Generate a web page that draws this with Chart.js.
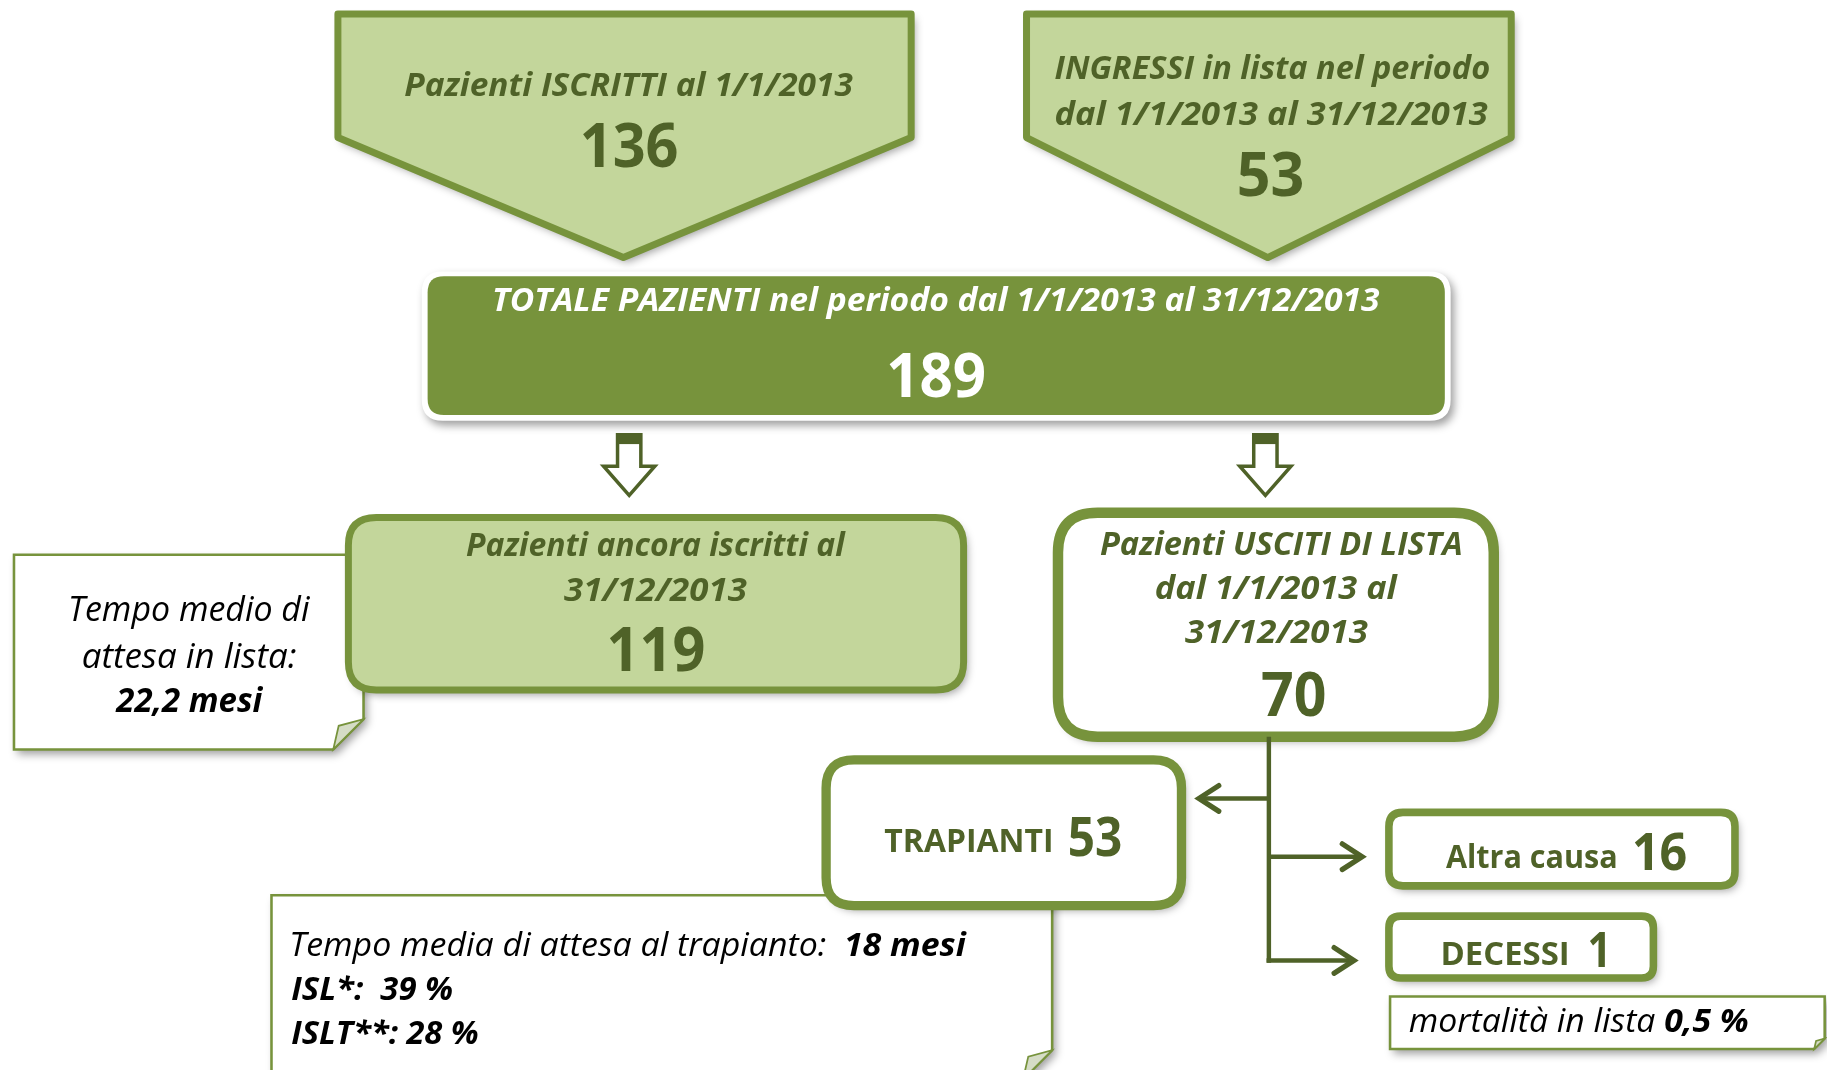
<!DOCTYPE html>
<html><head><meta charset="utf-8">
<script src="https://cdn.jsdelivr.net/npm/chart.js@4.4.1/dist/chart.umd.min.js"></script>
<style>html,body{margin:0;padding:0;background:#fff;overflow:hidden}canvas{display:block}</style>
</head><body>
<canvas id="c" width="1827" height="1070"></canvas>
<script>
// ---------------- DATA ----------------
const countNames   = ['Iscritti al 1/1/2013','Ingressi','Totale pazienti','Ancora iscritti','Usciti di lista','Trapianti','Altra causa','Decessi'];
const patientCounts = [136, 53, 189, 119, 70, 53, 16, 1];
const waitListMonths = [22.2];
const transplantWaitMonths = [18];
const islPercent  = [39];
const isltPercent = [28];
const mortalityPercent = [0.5];

// ---------------- STYLE / LAYOUT (reference units: 1568 x 918) ----------------
const DARK = '#4F6228', BORDER = '#77933C', LIGHT = '#C3D69B', FOLD = '#d5dcc6';
const W = 1568, H = 918;
const fmt = v => String(v).replace('.', ',');

// anchors of the count labels (ink extents): [x0, x1, baseline, size, color]
const countAnchors = [
  [500, 581, 143, 52, DARK],
  [1063, 1118, 168, 52, DARK],
  [763, 845, 341, 52, '#ffffff'],
  [523, 604, 576, 52, DARK],
  [1083, 1137, 614, 52, DARK],
  [918, 962, 734, 46, DARK],
  [1403, 1447, 746, 44, DARK],
  [1364, 1378, 830, 42, DARK]
];

const texts = [
  {segs:[['Pazienti ISCRITTI al 1/1/2013','bi']], x0:347, x1:732, b:82, s:28, c:DARK},
  {segs:[['INGRESSI in lista nel periodo','bi']], x0:905, x1:1278, b:68, s:28, c:DARK},
  {segs:[['dal 1/1/2013 al 31/12/2013','bi']], x0:906, x1:1277, b:107, s:28, c:DARK},
  {segs:[['TOTALE PAZIENTI nel periodo dal 1/1/2013 al 31/12/2013','bi']], x0:424, x1:1184, b:267, s:28, c:'#ffffff'},
  {segs:[['Pazienti ancora iscritti al','bi']], x0:400, x1:726, b:477, s:28, c:DARK},
  {segs:[['31/12/2013','bi']], x0:484, x1:641, b:516, s:28, c:DARK},
  {segs:[['Pazienti USCITI DI LISTA','bi']], x0:944, x1:1254, b:476, s:28, c:DARK},
  {segs:[['dal 1/1/2013 al','bi']], x0:992, x1:1200, b:514, s:28, c:DARK},
  {segs:[['31/12/2013','bi']], x0:1017, x1:1174, b:552, s:28, c:DARK},
  {segs:[['Tempo medio di','i']], x0:61, x1:266, b:533, s:29, c:'#000'},
  {segs:[['attesa in lista:','i']], x0:71, x1:254, b:573, s:29, c:'#000'},
  {segs:[[fmt(waitListMonths[0]) + ' mesi','bi']], x0:99, x1:226, b:611, s:29, c:'#000'},
  {segs:[['TRAPIANTI','b']], x0:759, x1:902, b:731, s:27, c:DARK},
  {segs:[['Altra causa','b']], x0:1241, x1:1387, b:745, s:28, c:DARK},
  {segs:[['DECESSI','b']], x0:1238, x1:1345, b:828, s:27, c:DARK},
  {segs:[['mortalità in lista ','i'],[fmt(mortalityPercent[0]) + ' %','bi']], x0:1209, x1:1500, b:885, s:28, c:'#000'},
  {segs:[['Tempo media di attesa al trapianto:  ','i'],[fmt(transplantWaitMonths[0]) + ' mesi','bi']], x0:250, x1:830, b:820, s:28, c:'#000'},
  {segs:[['ISL*:  ' + fmt(islPercent[0]) + ' %','bi']], x0:250, x1:388, b:858, s:28, c:'#000'},
  {segs:[['ISLT**: ' + fmt(isltPercent[0]) + ' %','bi']], x0:250, x1:410, b:896, s:28, c:'#000'}
];

const FONT = '"Open Sans","Noto Sans","DejaVu Sans",sans-serif';

// ---------------- DRAWING PLUGIN ----------------
const diagram = {
  id: 'diagram',
  beforeDatasetsDraw(chart) {
    const ctx = chart.ctx, xs = chart.scales.x, ys = chart.scales.y;
    const X = v => xs.getPixelForValue(v), Y = v => ys.getPixelForValue(v);
    const S = X(1) - X(0);
    const shadowOn = () => { ctx.shadowColor = 'rgba(0,0,0,0.38)'; ctx.shadowBlur = 7*S; ctx.shadowOffsetX = 3*S; ctx.shadowOffsetY = 4*S; };
    const shadowOff = () => { ctx.shadowColor = 'rgba(0,0,0,0)'; ctx.shadowBlur = 0; ctx.shadowOffsetX = 0; ctx.shadowOffsetY = 0; };
    const rr = (x0, y0, x1, y1, r) => {
      ctx.beginPath();
      ctx.moveTo(X(x0 + r), Y(y0));
      ctx.lineTo(X(x1 - r), Y(y0)); ctx.quadraticCurveTo(X(x1), Y(y0), X(x1), Y(y0 + r));
      ctx.lineTo(X(x1), Y(y1 - r)); ctx.quadraticCurveTo(X(x1), Y(y1), X(x1 - r), Y(y1));
      ctx.lineTo(X(x0 + r), Y(y1)); ctx.quadraticCurveTo(X(x0), Y(y1), X(x0), Y(y1 - r));
      ctx.lineTo(X(x0), Y(y0 + r)); ctx.quadraticCurveTo(X(x0), Y(y0), X(x0 + r), Y(y0));
      ctx.closePath();
    };
    const box = (x0, y0, x1, y1, r, fill, stroke, lw) => {
      ctx.save(); shadowOn(); rr(x0, y0, x1, y1, r); ctx.fillStyle = fill; ctx.fill(); shadowOff();
      ctx.lineWidth = lw * S; ctx.strokeStyle = stroke; ctx.lineJoin = 'round'; ctx.stroke(); ctx.restore();
    };
    const pent = (x0, x1, y0, ys2, tx, ty) => {
      ctx.save(); shadowOn();
      ctx.beginPath(); ctx.moveTo(X(x0), Y(y0)); ctx.lineTo(X(x1), Y(y0)); ctx.lineTo(X(x1), Y(ys2));
      ctx.lineTo(X(tx), Y(ty)); ctx.lineTo(X(x0), Y(ys2)); ctx.closePath();
      ctx.fillStyle = LIGHT; ctx.fill(); shadowOff();
      ctx.lineWidth = 6*S; ctx.strokeStyle = BORDER; ctx.lineJoin = 'round'; ctx.stroke(); ctx.restore();
    };
    const note = (x0, y0, x1, y1, f) => {
      ctx.save(); shadowOn();
      ctx.beginPath(); ctx.moveTo(X(x0), Y(y0)); ctx.lineTo(X(x1), Y(y0)); ctx.lineTo(X(x1), Y(y1 - f));
      ctx.lineTo(X(x1 - f), Y(y1)); ctx.lineTo(X(x0), Y(y1)); ctx.closePath();
      ctx.fillStyle = '#fff'; ctx.fill(); shadowOff();
      ctx.lineWidth = 2.2*S; ctx.strokeStyle = BORDER; ctx.stroke();
      ctx.beginPath(); ctx.moveTo(X(x1), Y(y1 - f)); ctx.lineTo(X(x1 - f), Y(y1)); ctx.lineTo(X(x1 - f*0.82), Y(y1 - f*0.78)); ctx.closePath();
      ctx.fillStyle = FOLD; ctx.fill(); ctx.lineWidth = 1.5*S; ctx.stroke();
      ctx.restore();
    };
    const hollowArrow = (cx) => {
      ctx.save();
      ctx.beginPath();
      ctx.moveTo(X(cx - 10), Y(373)); ctx.lineTo(X(cx + 10), Y(373)); ctx.lineTo(X(cx + 10), Y(400));
      ctx.lineTo(X(cx + 22), Y(400)); ctx.lineTo(X(cx), Y(425)); ctx.lineTo(X(cx - 22), Y(400));
      ctx.lineTo(X(cx - 10), Y(400)); ctx.closePath();
      ctx.fillStyle = '#fff'; ctx.fill();
      ctx.lineWidth = 3*S; ctx.strokeStyle = DARK; ctx.lineJoin = 'miter'; ctx.stroke();
      ctx.fillStyle = DARK; ctx.fillRect(X(cx - 10), Y(373), X(cx + 10) - X(cx - 10), Y(381) - Y(373));
      ctx.restore();
    };
    const chev = (tx, ty, dir) => {
      ctx.beginPath(); ctx.moveTo(X(tx - dir*17), Y(ty - 11)); ctx.lineTo(X(tx), Y(ty)); ctx.lineTo(X(tx - dir*17), Y(ty + 11)); ctx.stroke();
    };

    // top pentagons
    pent(290, 782, 12, 118, 535, 221);
    pent(881, 1297, 12, 118, 1088, 221);
    // total box with white rim
    ctx.save(); shadowOn(); rr(362, 233, 1245, 361, 18); ctx.fillStyle = '#fff'; ctx.fill(); shadowOff(); ctx.restore();
    rr(367, 237, 1240, 356, 14); ctx.fillStyle = BORDER; ctx.fill();
    // hollow arrows
    hollowArrow(540); hollowArrow(1086);
    // waiting note + still enrolled box
    note(12, 476, 312, 643, 26);
    box(299, 444, 827, 592, 24, LIGHT, BORDER, 6);
    // exited box
    box(908, 440, 1282, 632, 34, '#fff', BORDER, 9);
    // connector
    ctx.save(); ctx.strokeStyle = DARK; ctx.lineWidth = 3.8*S; ctx.lineCap = 'butt';
    ctx.beginPath(); ctx.moveTo(X(1089), Y(632)); ctx.lineTo(X(1089), Y(826)); ctx.stroke();
    ctx.beginPath(); ctx.moveTo(X(1089), Y(685)); ctx.lineTo(X(1031), Y(685)); ctx.stroke();
    ctx.beginPath(); ctx.moveTo(X(1089), Y(735)); ctx.lineTo(X(1167), Y(735)); ctx.stroke();
    ctx.beginPath(); ctx.moveTo(X(1087), Y(824)); ctx.lineTo(X(1160), Y(824)); ctx.stroke();
    ctx.lineWidth = 4.5*S; ctx.lineCap = 'round'; ctx.lineJoin = 'miter';
    chev(1029, 685, -1); chev(1169, 735, 1); chev(1162, 824, 1);
    ctx.restore();
    // transplant note + box
    note(233, 768, 903, 926, 25);
    box(709, 652, 1014, 777, 24, '#fff', BORDER, 8);
    // other cause / deaths
    box(1192, 697, 1489, 760, 12, '#fff', BORDER, 6.5);
    box(1192, 786, 1419, 839, 10, '#fff', BORDER, 6.5);
    note(1193, 855, 1566, 900, 9);
  },
  afterDatasetsDraw(chart) {
    const ctx = chart.ctx, xs = chart.scales.x, ys = chart.scales.y;
    const X = v => xs.getPixelForValue(v), Y = v => ys.getPixelForValue(v);
    const S = X(1) - X(0);
    const fontFor = (st, size) => (st.includes('i') ? 'italic ' : '') + (st.includes('b') ? '700 ' : '400 ') + (size*S).toFixed(1) + 'px ' + FONT;
    // fits the ink extent of the text run between px0 and px1
    const drawFit = (segs, px0, px1, pb, size, color) => {
      const ws = []; let adv = 0, left = 0, right = 0;
      segs.forEach(([t, st], i) => {
        ctx.font = fontFor(st, size);
        const m = ctx.measureText(t);
        if (i === 0) left = m.actualBoundingBoxLeft;
        if (i === segs.length - 1) right = adv + m.actualBoundingBoxRight;
        ws.push(m.width); adv += m.width;
      });
      const ink = right + left;
      const sx = (px1 - px0) / ink;
      ctx.save(); ctx.translate(px0, pb); ctx.scale(sx, 1); ctx.translate(left, 0);
      ctx.fillStyle = color; ctx.textBaseline = 'alphabetic'; ctx.textAlign = 'left';
      let cx = 0;
      segs.forEach(([t, st], i) => { ctx.font = fontFor(st, size); ctx.fillText(t, cx, 0); cx += ws[i]; });
      ctx.restore();
    };
    texts.forEach(t => drawFit(t.segs, X(t.x0), X(t.x1), Y(t.b), t.s, t.c));
    // count labels placed through the dataset points
    const meta = chart.getDatasetMeta(0);
    meta.data.forEach((pt, i) => {
      const a = countAnchors[i];
      const half = (X(a[1]) - X(a[0])) / 2;
      drawFit([[String(patientCounts[i]), 'b']], pt.x - half, pt.x + half, pt.y, a[3], a[4]);
    });
  }
};

new Chart(document.getElementById('c'), {
  type: 'scatter',
  data: {
    labels: countNames,
    datasets: [{
      label: 'Pazienti',
      data: patientCounts.map((v, i) => ({ x: (countAnchors[i][0] + countAnchors[i][1]) / 2, y: countAnchors[i][2], v })),
      pointRadius: 0, pointHoverRadius: 0, showLine: false
    }]
  },
  options: {
    responsive: false, devicePixelRatio: 1, animation: false,
    layout: { padding: 0 },
    events: [],
    plugins: { legend: { display: false }, tooltip: { enabled: false } },
    scales: {
      x: { type: 'linear', min: 0, max: W, display: false },
      y: { type: 'linear', min: 0, max: H, reverse: true, display: false }
    }
  },
  plugins: [diagram]
});
</script>
</body></html>
